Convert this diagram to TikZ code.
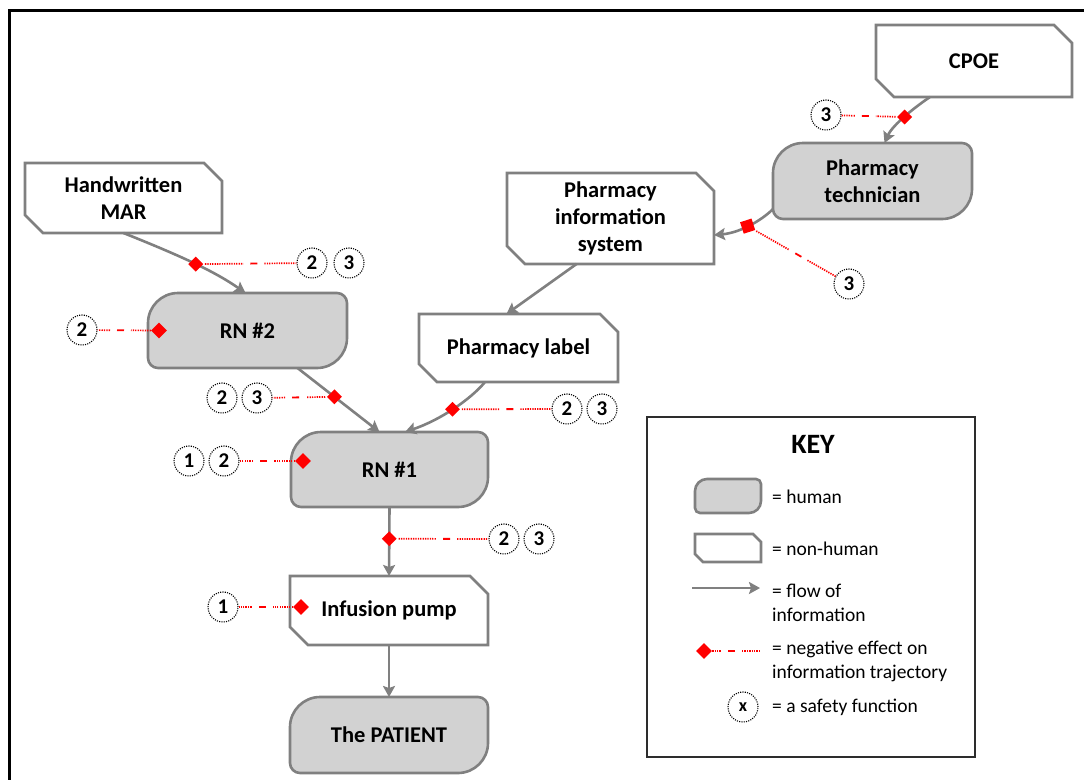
\documentclass[tikz,border=0pt]{standalone}
\usepackage{fontspec}
\setmainfont{Carlito}
\usetikzlibrary{arrows.meta,shapes.geometric,calc}

\definecolor{linegray}{RGB}{128,128,128}
\definecolor{humanfill}{RGB}{210,210,210}
\definecolor{negred}{RGB}{255,0,0}
\definecolor{keyline}{RGB}{45,45,45}

% Rounded box for people: big radius top-left / bottom-right, small elsewhere
\newcommand\humanpath[7]{%
  \path[#1] ({#2},{#3+#6}) .. controls ({#2},{#3+0.45*#6}) and ({#2+0.45*#6},{#3}) .. ({#2+#6},{#3})
    -- ({#4-#7},{#3}) .. controls ({#4-0.45*#7},{#3}) and ({#4},{#3+0.45*#7}) .. ({#4},{#3+#7})
    -- ({#4},{#5-#6}) .. controls ({#4},{#5-0.45*#6}) and ({#4-0.45*#6},{#5}) .. ({#4-#6},{#5})
    -- ({#2+#7},{#5}) .. controls ({#2+0.45*#7},{#5}) and ({#2},{#5-0.45*#7}) .. ({#2},{#5-#7}) -- cycle;}
% Box with two clipped corners for artefacts
\newcommand\machinepath[6]{%
  \path[#1] ({#2},{#3}) -- ({#4-#6},{#3}) -- ({#4},{#3+#6}) -- ({#4},{#5})
    -- ({#2+#6},{#5}) -- ({#2},{#5-#6}) -- cycle;}
\newcommand\boxnode[6]{%
  \node[boxtext, minimum width={(#4-#2)*1pt}, minimum height={(#5-#3)*1pt}]
    (#1) at ({(#2+#4)/2},{(#3+#5)/2}) {#6};}
\newcommand\humannode[6]{\humanpath{humanshape}{#2}{#3}{#4}{#5}{30}{10}\boxnode{#1}{#2}{#3}{#4}{#5}{#6}}
\newcommand\machinenode[6]{\machinepath{machineshape}{#2}{#3}{#4}{#5}{18}\boxnode{#1}{#2}{#3}{#4}{#5}{#6}}
% Dotted red link with a short dash in its middle
\newcommand\negline[2]{%
  \coordinate (nlmid) at ($(#1)!0.5!(#2)$);
  \draw[negdot] (#1) -- ($(nlmid)!10.5pt!(#1)$);
  \draw[negdash] ($(nlmid)!3.5pt!(#1)$) -- ($(nlmid)!3.5pt!(#2)$);
  \draw[negdot] ($(nlmid)!10.5pt!(#2)$) -- (#2);}

\tikzset{
  humanshape/.style={draw=linegray, fill=humanfill, line width=2.6pt},
  machineshape/.style={draw=linegray, fill=white, line width=2.6pt},
  boxtext/.style={font=\bfseries\fontsize{22.5}{27}\selectfont, align=center,
    inner sep=0pt, outer sep=0pt},
  flow/.style={draw=linegray, line width=2.6pt,
    -{Stealth[length=11pt, width=12pt, inset=2pt]}},
  negmark/.style={shape=diamond, fill=negred, draw=none, inner sep=0pt,
    minimum width=16pt, minimum height=16pt},
  negsquare/.style={shape=rectangle, fill=negred, draw=none, inner sep=0pt,
    minimum size=12pt, rotate=18},
  negdot/.style={draw=negred, line width=1.7pt, dash pattern=on 1.3pt off 1.1pt},
  negdash/.style={draw=negred, line width=1.8pt},
  safety/.style={circle, draw=black, line width=1.1pt, dash pattern=on 1.1pt off 1.2pt,
    minimum size=30pt, inner sep=0pt, font=\bfseries\fontsize{21}{21}\selectfont},
  keytext/.style={anchor=west, align=left, inner sep=0pt,
    font=\fontsize{19.5}{24}\selectfont},
}

\begin{document}
\begin{tikzpicture}[x=1pt, y=-1pt]
\useasboundingbox (0,0) rectangle (1084,780);
\fill[white] (0,0) rectangle (1084,780);

% outer frame
\draw[line width=2.5pt] (1084,10.5) -- (9.5,10.5) -- (9.5,780);

% actors and artefacts
\machinenode{cpoe}{876}{25}{1072}{97}{CPOE}
\humannode{pt}{773}{143}{972}{219}{Pharmacy\\technician}
\machinenode{mar}{25}{163}{222}{233}{Handwritten\\MAR}
\machinenode{pis}{507}{173}{714}{264}{Pharmacy\\information\\system}
\machinenode{pl}{419}{314}{618}{382}{Pharmacy label}
\humannode{rn2}{148}{293}{347}{368}{RN \#2}
\humannode{rn1}{291}{432}{488}{507}{RN \#1}
\machinenode{ip}{290}{576}{488}{645}{Infusion pump}
\humannode{pat}{290}{697}{488}{773}{The PATIENT}

% information flow
\draw[flow] ($(cpoe.south)+(-44,0)$) .. controls +(-15,10) and +(8,-18) ..
  ($(pt.north)+(12,0)$) node[negmark, pos=0.5] (m1) {};
\draw[flow] ($(pt.west)+(0,28)$) .. controls +(-13,13) and +(24,-2) ..
  ($(pis.east)+(0,16.5)$) node[negsquare, pos=0.5] (m2) {};
\draw[flow] (mar.south) .. controls +(60,24) and +(-30,-21) ..
  ($(rn2.north)+(-2,0)$) node[negmark, pos=0.5] (m3) {};
\draw[flow] ($(pis.south)+(-34,0)$) -- ($(pl.north)+(-12,0)$);
\draw[flow] ($(rn2.south)+(50,0)$) -- ($(rn1.north)+(-10,0)$)
  node[negmark, pos=0.45] (m5) {};
\draw[flow] ($(pl.south)+(-33.5,0)$) .. controls +(-15,18) and +(35,-12) ..
  ($(rn1.north)+(15.5,0)$) node[negmark, pos=0.5] (m6) {};
\draw[flow] (rn1.south) -- (ip.north) node[negmark, pos=0.46] (m8) {};
\draw[flow] (ip.south) -- (pat.north);

% markers sitting on the agents themselves
\node[negmark] (m4) at ($(rn2.west)+(11,0)$) {};
\node[negmark] (m7) at ($(rn1.west)+(12,-8.5)$) {};
\node[negmark] (m9) at ($(ip.west)+(11,-3.5)$) {};

% safety functions
\node[safety] (s1) at (826,115) {3};
\node[safety] (s2) at (849,284) {3};
\node[safety] (s3a) at (312,263) {2};
\node[safety] (s3b) at (349,263) {3};
\node[safety] (s4) at (82,330) {2};
\node[safety] (s5b) at (257,398) {3};
\node[safety] (s5a) at (222,398) {2};
\node[safety] (s6a) at (567,409) {2};
\node[safety] (s6b) at (602,409) {3};
\node[safety] (s7b) at (224,461) {2};
\node[safety] (s7a) at (189,461) {1};
\node[safety] (s8a) at (504,539) {2};
\node[safety] (s8b) at (539,539) {3};
\node[safety] (s9) at (223,607) {1};

% negative effects
\negline{m1}{s1}
\negline{m2}{s2}
\negline{m3}{s3a}
\negline{m4}{s4}
\negline{m5}{s5b}
\negline{m6}{s6a}
\negline{m7}{s7b}
\negline{m8}{s8a}
\negline{m9}{s9}

% key
\draw[draw=keyline, line width=2.2pt] (647,417) rectangle (975,757);
\node[font=\bfseries\fontsize{28}{30}\selectfont, inner sep=0pt] (keytitle) at (813,444) {KEY};
\humanpath{humanshape}{695}{479}{761}{513}{12}{5}
\node[keytext] (khuman) at (772,497) {= human};
\machinepath{machineshape}{695}{534}{761}{562}{8}
\node[keytext] (kmachine) at (772,549) {= non-human};
\coordinate (kf1) at (692,588);
\coordinate (kf2) at (760,588);
\draw[flow] (kf1) -- (kf2);
\node[keytext] (kflow) at (772,603) {= flow of\\information};
\node[negmark] (kneg) at (704,651) {};
\coordinate (knegend) at (759,651);
\negline{kneg}{knegend}
\node[keytext] (knegtext) at (772,661) {= negative effect on\\information trajectory};
\node[safety, font=\bfseries\fontsize{18}{18}\selectfont] (ksafe) at (743,707) {x};
\node[keytext] (ksafetext) at (772,707) {= a safety function};
\end{tikzpicture}
\end{document}
